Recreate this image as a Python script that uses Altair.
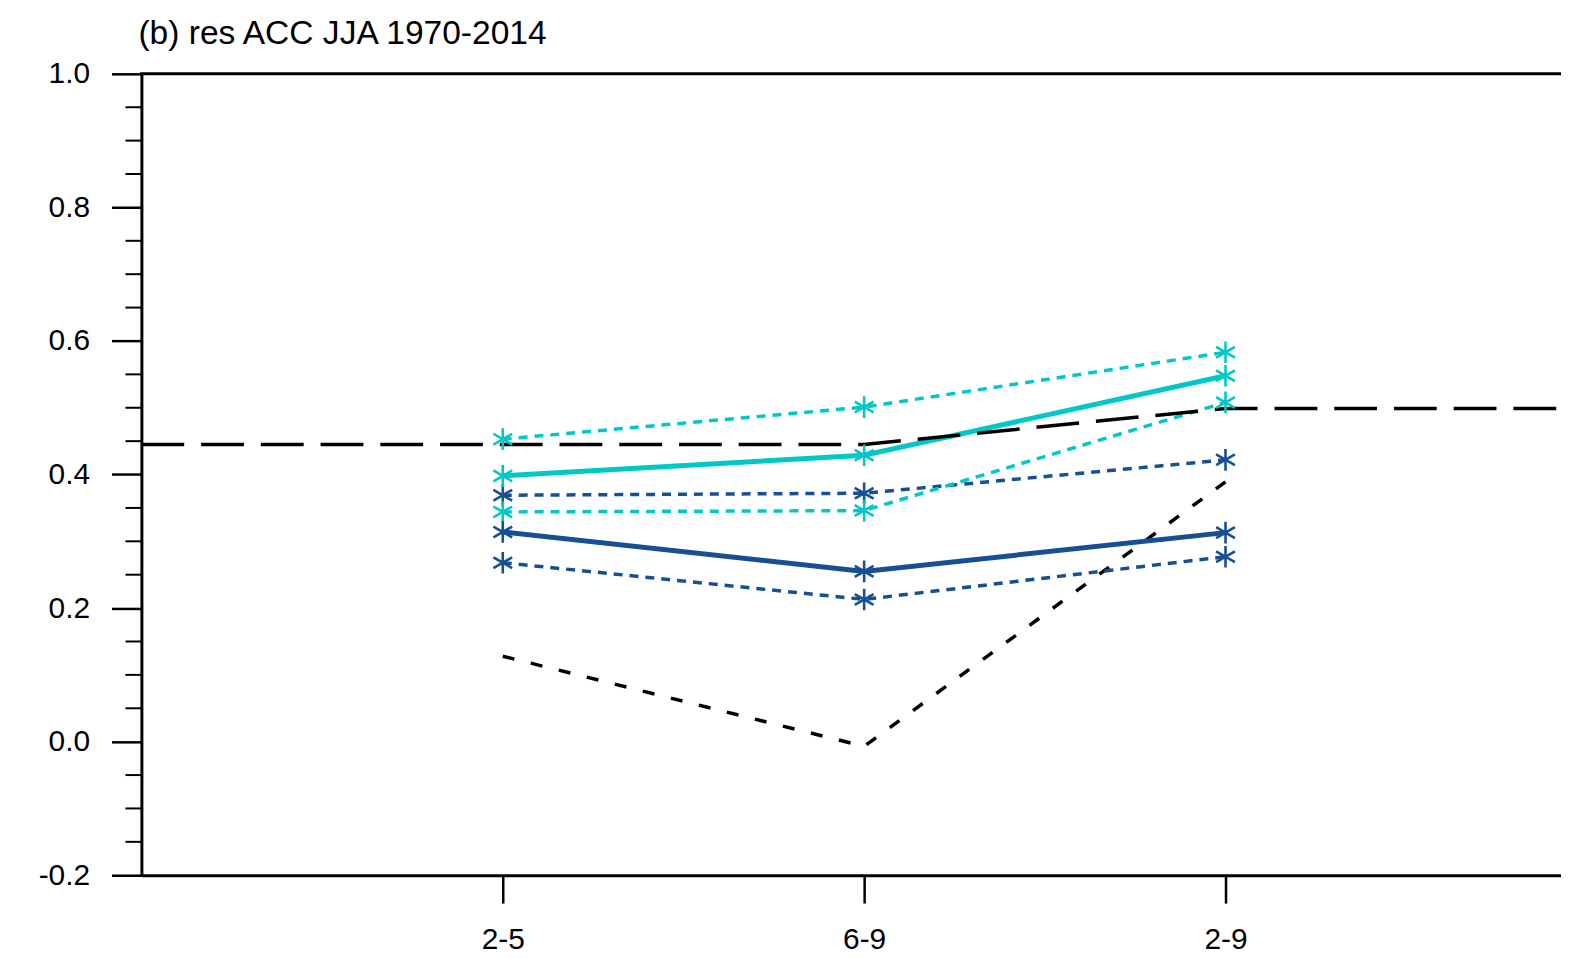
import altair as alt
import pandas as pd

TITLE = "(b) res ACC JJA 1970-2014"
CATEGORIES = ["2-5", "6-9", "2-9"]
POSITIONS = [1, 2, 3]

CYAN_SOLID = [0.398, 0.429, 0.548]
CYAN_DOT_HI = [0.453, 0.501, 0.583]
CYAN_DOT_LO = [0.344, 0.346, 0.508]
BLUE_DOT_HI = [0.369, 0.372, 0.422]
BLUE_SOLID = [0.314, 0.255, 0.313]
BLUE_DOT_LO = [0.268, 0.213, 0.277]
BLACK_DASH = [0.128, -0.007, 0.389]

THRESH_X = [0, 1, 2, 3, 4]
THRESH_Y = [0.445, 0.445, 0.445, 0.499, 0.499]

MAJOR_TICKS = [-0.2, 0.0, 0.2, 0.4, 0.6, 0.8, 1.0]
MINOR_TICKS = [-0.15, -0.1, -0.05, 0.05, 0.1, 0.15, 0.25, 0.3, 0.35,
               0.45, 0.5, 0.55, 0.65, 0.7, 0.75, 0.85, 0.9, 0.95]

CYAN = "#00C8C8"
BLUE = "#164F94"
FONT = "Liberation Sans"

SOLID_NAMES = ["blue_solid", "cyan_solid"]
SOLID_VALUES = [BLUE_SOLID, CYAN_SOLID]
DOT_NAMES = ["blue_dot_lo", "blue_dot_hi", "cyan_dot_lo", "cyan_dot_hi"]
DOT_VALUES = [BLUE_DOT_LO, BLUE_DOT_HI, CYAN_DOT_LO, CYAN_DOT_HI]
ALL_NAMES = DOT_NAMES + SOLID_NAMES
ALL_COLORS = [BLUE, BLUE, CYAN, CYAN, BLUE, CYAN]


def long_table(names, values):
    rows = []
    for name, vals in zip(names, values):
        for c, p, v in zip(CATEGORIES, POSITIONS, vals):
            rows.append({"series": name, "cat": c, "pos": p, "val": v})
    return pd.DataFrame(rows)


df_solid = long_table(SOLID_NAMES, SOLID_VALUES)
df_dot = long_table(DOT_NAMES, DOT_VALUES)
df_black = long_table(["black_dash"], [BLACK_DASH])
df_mark = pd.concat([df_dot, df_solid], ignore_index=True)
df_thr = pd.DataFrame({"pos": THRESH_X, "val": THRESH_Y})
df_minor = pd.DataFrame({"val": MINOR_TICKS})
df_title = pd.DataFrame({"t": [TITLE]})

W = 1426
H = 805
XMAX = W / 363.0

xscale = alt.Scale(domain=[0, XMAX], nice=False, zero=False)
yscale = alt.Scale(domain=[-0.2, 1.0], nice=False, zero=False)
color_scale = alt.Scale(domain=ALL_NAMES, range=ALL_COLORS)

label_expr = "[" + ",".join("'%s'" % c for c in CATEGORIES) + "][datum.value - 1]"
y_label_expr = "(datum.value < -0.001 ? '-' : '') + format(abs(datum.value), '.1f')"

x_axis = alt.Axis(orient="bottom", values=POSITIONS, labelExpr=label_expr,
                  title=None, grid=False, tickSize=28, tickWidth=2.5,
                  tickColor="black", domainColor="black", domainWidth=3,
                  labelFont=FONT, labelFontSize=30, labelColor="black",
                  labelPadding=22)
y_axis = alt.Axis(orient="left", values=MAJOR_TICKS, labelExpr=y_label_expr,
                  title=None, grid=False, tickSize=30, tickWidth=2.5,
                  tickColor="black", domainColor="black", domainWidth=3,
                  labelFont=FONT, labelFontSize=30, labelColor="black",
                  labelPadding=22)


def X():
    return alt.X("pos:Q", scale=xscale, axis=x_axis, title=None)


def Y():
    return alt.Y("val:Q", scale=yscale, axis=y_axis, title=None)


black = alt.Chart(df_black).mark_line(color="black", strokeWidth=3.5,
                                      strokeDash=[12, 17], strokeCap="butt").encode(
    x=X(), y=Y(), order="pos:Q",
)

dots = alt.Chart(df_dot).mark_line(strokeWidth=3.5, strokeDash=[9, 7],
                                   strokeCap="butt").encode(
    x=X(), y=Y(),
    color=alt.Color("series:N", scale=color_scale, legend=None),
    detail="series:N",
    order="pos:Q",
)

solids = alt.Chart(df_solid).mark_line(strokeWidth=5, strokeCap="butt").encode(
    x=X(), y=Y(),
    color=alt.Color("series:N", scale=color_scale, legend=None),
    detail="series:N",
    order="pos:Q",
)

ASTERISK = "M0,-1L0,1M-0.87,-0.5L0.87,0.5M-0.87,0.5L0.87,-0.5"
markers = alt.Chart(df_mark).mark_point(shape=ASTERISK, size=470, filled=False,
                                        strokeWidth=2.6, opacity=1).encode(
    x=X(), y=Y(),
    color=alt.Color("series:N", scale=color_scale, legend=None),
)

thresh = alt.Chart(df_thr).mark_line(color="black", strokeWidth=3.5,
                                     strokeDash=[43, 17], clip=True,
                                     strokeCap="butt").encode(
    x=X(), y=Y(), order="pos:Q",
)

minor = alt.Chart(df_minor).mark_rule(color="black", strokeWidth=2).encode(
    y=Y(),
    x=alt.value(-16),
    x2=alt.value(0),
)

top_frame = alt.Chart(df_title).mark_rule(color="black", strokeWidth=3).encode(
    x=alt.value(-1.5),
    x2=alt.value(W),
    y=alt.value(0),
)

title = alt.Chart(df_title).mark_text(align="left", baseline="alphabetic",
                                      font=FONT, fontSize=33.7, color="black").encode(
    x=alt.value(-3),
    y=alt.value(-30),
    text="t:N",
)

chart = alt.layer(black, dots, solids, thresh, markers, minor, top_frame, title).properties(
    width=W,
    height=H,
    autosize=alt.AutoSizeParams(type="none"),
    padding={"left": 134, "top": 64, "right": 0, "bottom": 81},
).configure_view(stroke=None)

chart.save("out.html", embed_options={"renderer": "svg", "actions": False})
